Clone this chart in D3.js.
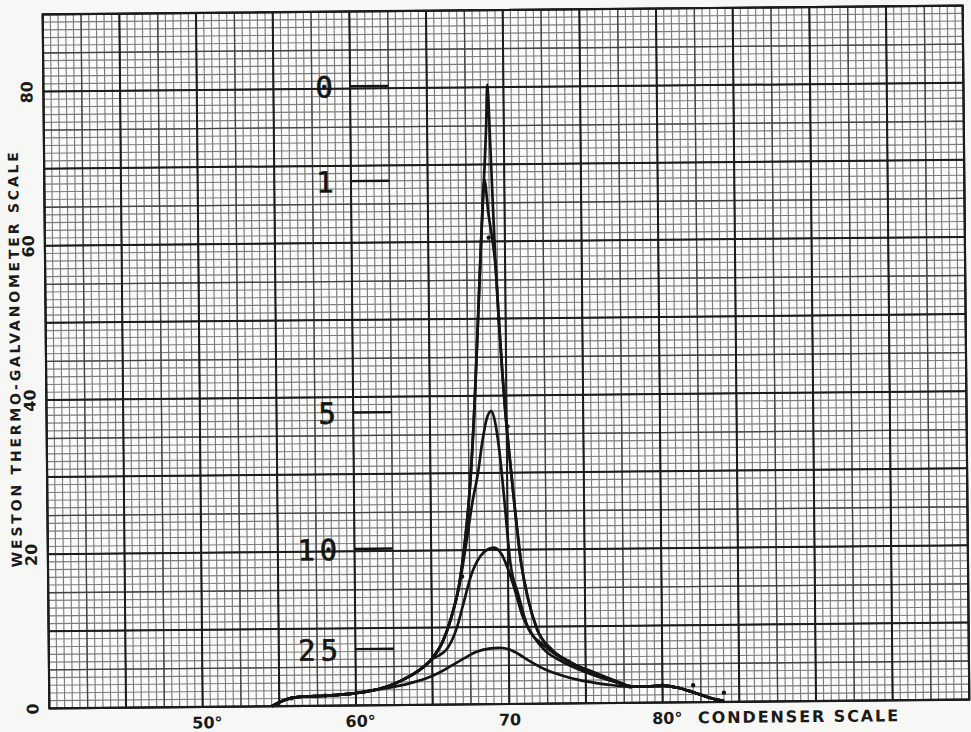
<!DOCTYPE html>
<html>
<head>
<meta charset="utf-8">
<title>Condenser resonance curves</title>
<script src="https://cdn.jsdelivr.net/npm/d3@7"></script>
<style>
  body { margin: 0; background: #f7f7f5; }
  svg { display: block; }
</style>
</head>
<body>
<script>
// condenser scale (deg) vs Weston thermo-galvanometer reading
var leftTail  = [[54.5,0],[55.5,0.9],[56.5,1.2],[58,1.3],[60,1.6],[61,1.9]];
var rightTail = [[79,2.1],[80,2.2],[81,1.9],[82,1.3],[83,0.6],[84,0.1]];

var curve0 = [[62,2.4],[63,3.2],[64,4.3],[65,6.0],[65.7,8.2],[66.3,11.5],[66.8,15.5],[67.2,21],[67.6,29],
  [67.95,40],[68.25,52],[68.5,62],[68.7,69],[68.85,75],[68.95,80.3],[69.1,73],[69.25,64],[69.4,56],
  [69.55,50],[69.75,43],[69.9,38.5],[70.15,32.5],[70.5,25],[70.85,18.4],[71.3,13.5],[71.85,9.7],
  [72.8,7.0],[73.95,5.4],[75.5,3.8],[77.3,2.5],[78,2.1]];
var curve1 = [[62,2.4],[63,3.2],[64,4.3],[65,6.0],[65.7,8.2],[66.3,11.5],[66.8,15.5],[67.2,21],[67.6,29],
  [67.95,40],[68.25,52],[68.5,62],[68.7,68],[68.95,63.5],[69.2,60],[69.4,56],
  [69.55,50],[69.75,43],[69.9,38.5],[70.15,32.5],[70.5,25],[70.85,18.4],[71.3,13.5],[71.85,9.7],
  [72.8,7.0],[73.95,5.4],[75.5,3.8],[77.3,2.5],[78,2.1]];
var curve5 = [[62,2.4],[63,3.2],[64,4.3],[65,6.0],[65.7,8.2],[66.3,11.5],[66.8,15.3],[67.3,21],[67.7,26],
  [68.1,30],[68.4,34],[68.7,37],[69.0,38],[69.3,36],[69.5,33],[69.8,26.5],[70.15,18.4],[70.65,14.2],
  [71.3,9.7],[72.2,7.7],[73.75,5.5],[75.3,4.2],[77.3,2.6],[78,2.1]];
var curve10 = [[62,2.4],[63,3.2],[64,4.3],[65,5.9],[66.0,7.3],[66.6,9.8],[67.1,13.3],[67.6,16.8],[68.2,19.2],
  [68.7,20.1],[69.1,20.3],[69.6,19.4],[70.0,17.5],[70.4,15],[70.9,11.5],[71.6,8.8],[72.3,7.0],
  [73.5,5.4],[75.3,3.8],[77.3,2.5],[78,2.1]];
var curve25 = [[62,2.2],[63.5,2.8],[64.7,3.5],[65.5,4.2],[66.3,5.1],[67.1,6.0],[67.9,6.8],[68.7,7.2],
  [69.4,7.3],[70.0,7.1],[70.6,6.5],[71.3,5.6],[72.4,4.4],[73.5,3.6],[74.6,3.0],[75.7,2.6],[76.8,2.3],[78,2.1]];

var curveNames = ["0", "1", "5", "10", "25"];
var curveMids = [curve0, curve1, curve5, curve10, curve25];

var obsPoints = [[55.8,1.0],[58,1.3],[68.95,60.5],[69.55,50],[70.05,36],[67.0,16.6],[73.9,5.4],[77.9,2.1],[80,2.2],[82.0,2.2],[84.0,1.2]];

var xTicks = [50, 60, 70, 80];
var xTickText = ["50°", "60°", "70", "80°"];
var yTicks = [0, 20, 40, 60, 80];
var xTitle = "CONDENSER SCALE";
var yTitle = "WESTON THERMO-GALVANOMETER SCALE";

var W = 971, H = 732;
var plotLeft = 46, plotRight = 966, plotTop = 10, plotBottom = 704;

var x = d3.scaleLinear().domain([40, 100]).range([plotLeft, plotRight]);
var y = d3.scaleLinear().domain([0, 90]).range([plotBottom, plotTop]);

var svg = d3.select("body").append("svg")
  .attr("width", W).attr("height", H);

// the scan is a little rotated
var g = svg.append("g").attr("transform", "rotate(-0.55, 506, 357)");

g.append("rect")
  .attr("x", plotLeft).attr("y", plotTop)
  .attr("width", plotRight - plotLeft).attr("height", plotBottom - plotTop)
  .attr("fill", "#fbfbf9");

// graph paper: fine, medium and heavy rulings
function ruling(xs, ys, color, width) {
  g.append("g").selectAll("line").data(xs).enter().append("line")
    .attr("x1", function(d) { return x(d); }).attr("x2", function(d) { return x(d); })
    .attr("y1", plotTop).attr("y2", plotBottom)
    .attr("stroke", color).attr("stroke-width", width);
  g.append("g").selectAll("line").data(ys).enter().append("line")
    .attr("x1", plotLeft).attr("x2", plotRight)
    .attr("y1", function(d) { return y(d); }).attr("y2", function(d) { return y(d); })
    .attr("stroke", color).attr("stroke-width", width);
}
ruling(d3.range(40, 100.01, 0.5), d3.range(0, 90.01, 1), "#7c7c7c", 1.15);
ruling(d3.range(40, 100.01, 2.5), d3.range(0, 90.01, 5), "#444", 1.35);
ruling(d3.range(40, 100.01, 5), d3.range(0, 90.01, 10), "#1c1c1c", 2);

g.append("rect")
  .attr("x", plotLeft).attr("y", plotTop)
  .attr("width", plotRight - plotLeft).attr("height", plotBottom - plotTop)
  .attr("fill", "none").attr("stroke", "#1c1c1c").attr("stroke-width", 2.2);

// curves
var line = d3.line()
  .x(function(d) { return x(d[0]); })
  .y(function(d) { return y(d[1]); })
  .curve(d3.curveMonotoneX);

curveMids.forEach(function(mid, i) {
  var pts = leftTail.concat(mid, rightTail);
  g.append("path")
    .attr("d", line(pts))
    .attr("fill", "none")
    .attr("stroke", "#141414")
    .attr("stroke-width", 2.7)
    .attr("stroke-linejoin", "round");

  // label with a short dash at the peak height
  var peak = d3.max(mid, function(d) { return d[1]; });
  g.append("line")
    .attr("x1", x(60)).attr("x2", x(62.5))
    .attr("y1", y(peak)).attr("y2", y(peak))
    .attr("stroke", "#141414").attr("stroke-width", 2.4);
  g.append("text")
    .attr("x", x(59.2)).attr("y", y(peak) + 11)
    .attr("text-anchor", "end")
    .attr("font-family", "'DejaVu Sans Mono', monospace")
    .attr("font-size", 29)
    .attr("letter-spacing", 5)
    .attr("fill", "#141414")
    .attr("stroke", "#141414")
    .attr("stroke-width", 0.6)
    .text(curveNames[i]);
});

g.append("g").selectAll("circle").data(obsPoints).enter().append("circle")
  .attr("cx", function(d) { return x(d[0]); })
  .attr("cy", function(d) { return y(d[1]); })
  .attr("r", 2.2)
  .attr("fill", "#141414");

// axes
var xAxis = g.append("g")
  .attr("transform", "translate(0," + plotBottom + ")")
  .call(d3.axisBottom(x).tickValues(xTicks).tickSize(0).tickPadding(10)
    .tickFormat(function(d, i) { return xTickText[i]; }));
xAxis.select(".domain").remove();
xAxis.selectAll("text")
  .attr("dx", function(d, i) { return xTickText[i].indexOf("°") >= 0 ? 4 : 0; })
  .attr("font-family", "'DejaVu Sans', sans-serif")
  .attr("font-weight", "bold")
  .attr("font-size", 16)
  .attr("fill", "#1a1a1a");

g.append("text")
  .attr("x", x(82.3)).attr("y", plotBottom + 21)
  .attr("font-family", "'DejaVu Sans', sans-serif")
  .attr("font-weight", "bold")
  .attr("font-size", 16)
  .attr("textLength", 200)
  .attr("lengthAdjust", "spacing")
  .attr("fill", "#1a1a1a")
  .text(xTitle);

var yAxis = g.append("g")
  .attr("transform", "translate(" + plotLeft + ",0)")
  .call(d3.axisLeft(y).tickValues(yTicks).tickSize(0).tickPadding(0));
yAxis.select(".domain").remove();
yAxis.selectAll("text")
  .attr("x", 0).attr("dy", 0)
  .attr("text-anchor", "middle")
  .attr("transform", "translate(-11,0) rotate(-90)")
  .attr("font-family", "'DejaVu Sans', sans-serif")
  .attr("font-weight", "bold")
  .attr("font-size", 16)
  .attr("fill", "#1a1a1a");

g.append("text")
  .attr("transform", "translate(20,355) rotate(-90)")
  .attr("text-anchor", "middle")
  .attr("font-family", "'DejaVu Sans', sans-serif")
  .attr("font-weight", "bold")
  .attr("font-size", 14)
  .attr("textLength", 415)
  .attr("lengthAdjust", "spacing")
  .attr("fill", "#1a1a1a")
  .text(yTitle);
</script>
</body>
</html>
